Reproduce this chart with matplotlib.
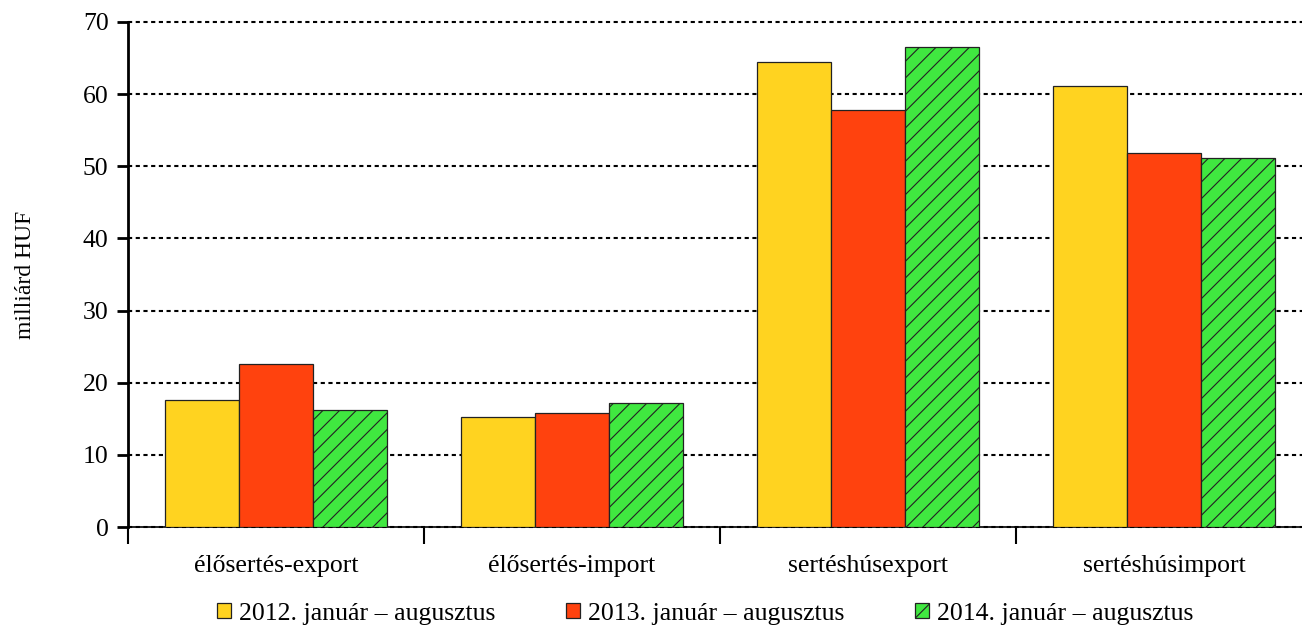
"""Grouped bar chart: live pig and pork trade value, January-August."""

import matplotlib

matplotlib.use("Agg")
import matplotlib.pyplot as plt
import numpy as np

categories = ["élősertés-export", "élősertés-import", "sertéshúsexport", "sertéshúsimport"]
series_labels = [
    "2012. január – augusztus",
    "2013. január – augusztus",
    "2014. január – augusztus",
]
values_2012 = [17.6, 15.3, 64.5, 61.1]
values_2013 = [22.6, 15.8, 57.8, 51.9]
values_2014 = [16.2, 17.2, 66.6, 51.1]
yticks = [0, 10, 20, 30, 40, 50, 60, 70]

colors = ["#FFD320", "#FF420E", "#40E840"]
hatches = ["", "", "//"]

plt.rcParams["font.family"] = ["Liberation Serif", "DejaVu Serif"]
plt.rcParams["hatch.linewidth"] = 0.8

fs = 18.5

fig = plt.figure(figsize=(13.02, 6.29), dpi=100)
ax = fig.add_axes([128 / 1302, 102 / 629, 1184 / 1302, 505 / 629])

x = np.arange(len(categories))
width = 0.25
for i, (vals, lab) in enumerate(zip([values_2012, values_2013, values_2014], series_labels)):
    ax.bar(
        x + (i - 1) * width,
        vals,
        width,
        color=colors[i],
        edgecolor="#222222",
        linewidth=0.9,
        hatch=hatches[i] if hatches[i] else None,
        label=lab,
        zorder=3,
    )

ax.set_xlim(-0.5, 3.5)
ax.set_ylim(0, 70)
ax.set_yticks(yticks)
ax.tick_params(axis="y", labelsize=fs, length=8, width=2, direction="out", pad=6)

# category labels centred, tick marks at group boundaries
ax.set_xticks(x)
ax.set_xticklabels(categories, fontsize=fs)
ax.tick_params(axis="x", which="major", length=0, pad=20)
ax.set_xticks(np.arange(-0.5, 4.0, 1.0), minor=True)
ax.tick_params(axis="x", which="minor", length=12, width=1.5, direction="out")

ax.yaxis.grid(True, linestyle=(0, (2.0, 1.7)), color="black", linewidth=1.5, zorder=0)
ax.set_axisbelow(True)
for gl in ax.get_ygridlines():
    gl.set_clip_on(False)

for side in ["top", "right"]:
    ax.spines[side].set_visible(False)
ax.spines["left"].set_linewidth(2)
ax.spines["bottom"].set_linewidth(1.2)

ax.set_ylabel("milliárd HUF", fontsize=17, labelpad=34)

fig.legend(
    loc="lower center",
    bbox_to_anchor=(0.5415, -0.03),
    ncol=3,
    frameon=False,
    fontsize=fs,
    handlelength=0.55,
    handleheight=0.55,
    handletextpad=0.3,
    columnspacing=2.75,
)

fig.savefig("out.png", dpi=100)
